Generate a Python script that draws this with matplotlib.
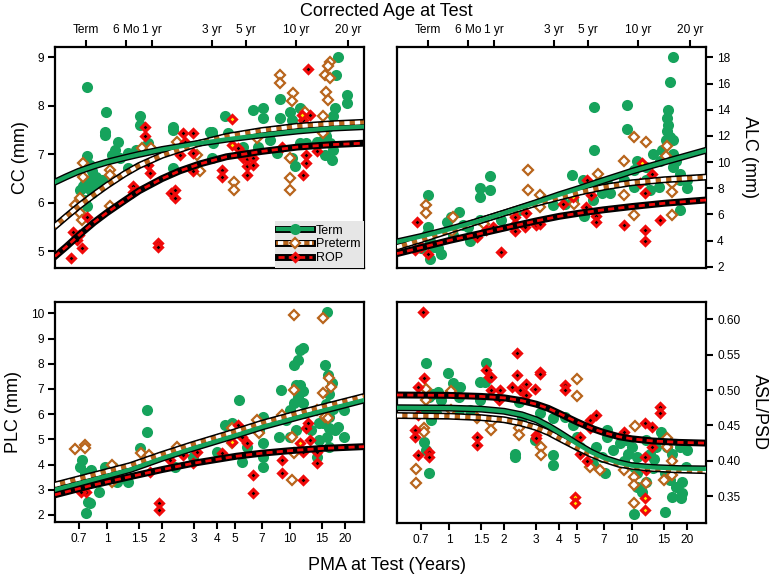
import matplotlib
matplotlib.use("Agg")
import matplotlib.pyplot as plt
from matplotlib.lines import Line2D
from matplotlib.legend_handler import HandlerTuple
from matplotlib.ticker import NullLocator, FixedLocator

plt.rcParams["font.family"] = ["Liberation Sans", "DejaVu Sans"]

GREEN = "#16a35c"
BROWN = "#b8651c"
RED = "#f00a0a"
YELLOW = "#ffee00"

# x axis (PMA in years) and top axis (corrected age)
pma_ticks = [0.7, 1, 1.5, 2, 3, 4, 5, 7, 10, 15, 20]
pma_labels = ["0.7", "1", "1.5", "2", "3", "4", "5", "7", "10", "15", "20"]
age_ticks = [0.767, 1.267, 1.767, 3.767, 5.767, 10.767, 20.767]
age_labels = ["Term", "6 Mo", "1 yr", "3 yr", "5 yr", "10 yr", "20 yr"]

# ---- CC ----
cc_term_x = [0.774, 0.99, 0.975, 0.975, 1.15, 1.106, 1.06, 1.31, 1.31, 1.51,
             1.51, 1.68, 1.45, 2.3, 2.3, 2.3, 3.73, 3.73, 3.8, 3.73, 4.41,
             0.774, 0.807, 0.825, 0.87, 0.807, 0.758, 0.86, 0.742, 0.79, 0.71,
             0.825, 0.758, 0.774, 0.896, 0.935, 1.18,
             18.3, 17.9, 20.5, 20.5, 8.82, 7.1, 6.3, 7.1, 8.82, 10.0, 10.2,
             11.35, 3.65, 5.55, 6.7, 7.78, 8.45, 10.2, 10.66, 11.35, 12.3,
             16.2, 17.2, 17.7, 15.8, 16.6, 17.2, 15.6, 16.9, 15.2, 14.0, 4.6, 5.55]
cc_term_y = [8.39, 7.88, 7.47, 7.40, 7.26, 7.09, 6.99, 7.02, 6.72, 7.78,
             7.6, 7.23, 7.09, 7.57, 7.5, 6.72, 7.47, 7.4, 7.23, 6.92, 7.78,
             6.96, 6.78, 6.65, 6.54, 6.48, 6.41, 6.41, 6.34, 6.30, 6.27,
             6.2, 6.06, 5.93, 6.34, 6.48, 6.93,
             9.01, 8.64, 8.22, 8.05, 8.13, 7.95, 7.92, 7.74, 7.74, 7.88, 7.71,
             7.95, 7.47, 7.16, 7.16, 7.3, 7.02, 6.92, 6.75, 7.23, 7.23,
             7.57, 7.78, 7.95, 7.37, 7.23, 7.09, 6.99, 6.89, 7.3, 7.26, 7.44, 6.99]
cc_pre_x = [0.742, 0.742, 0.669, 0.712, 0.712, 0.727, 1.04, 1.04, 1.04, 1.55,
            1.75, 2.4, 3.22, 3.1, 16.6, 16.2, 15.6, 16.6, 8.82, 8.82, 10.4,
            10.2, 15.8, 16.2, 12.1, 15.2, 10.0, 10.0, 10.0, 4.92, 4.92, 6.57, 15.2]
cc_pre_y = [6.82, 6.54, 5.96, 6.1, 5.79, 5.65, 6.68, 6.58, 5.93, 7.13,
            7.13, 7.26, 6.65, 6.99, 8.91, 8.81, 8.64, 8.57, 8.64, 8.47, 8.26,
            8.09, 8.29, 8.12, 7.88, 7.78, 6.92, 6.51, 6.27, 6.44, 6.27, 7.33, 7.44]
cc_rop_x = [0.64, 0.727, 0.65, 0.7, 0.686, 0.78, 1.39, 1.39, 1.61, 1.61,
            1.68, 1.72, 1.9, 1.9, 2.25, 2.35, 2.35, 2.6, 2.96, 2.96, 2.5,
            2.67, 2.96, 4.24, 4.24, 12.6, 12.9, 11.8, 5.2, 5.55, 5.8, 6.3,
            5.8, 6.3, 5.8, 9.0, 12.3, 12.3, 14.0, 11.8, 5.44]
cc_rop_y = [4.86, 5.07, 5.41, 5.34, 5.24, 5.72, 6.34, 6.23, 7.56, 7.37,
            6.78, 6.61, 5.17, 5.1, 6.2, 6.27, 6.1, 7.44, 7.44, 7.02, 6.99,
            7.26, 6.65, 6.68, 6.54, 8.75, 7.81, 7.71, 7.13, 6.93, 6.9, 6.93,
            6.75, 6.78, 6.58, 7.16, 6.99, 6.82, 7.06, 6.58, 7.02]
cc_ropy_x = [4.8, 11.6, 4.8]
cc_ropy_y = [7.73, 7.81, 7.19]
cc_fit_x = [0.52, 0.6, 0.7, 0.85, 1.0, 1.25, 1.5, 2.0, 2.5, 3.2, 4.5, 7.0,
            11.0, 17.0, 25.4]
cc_fit_term = [6.43, 6.54, 6.65, 6.76, 6.84, 6.93, 7.0, 7.1, 7.16, 7.23, 7.31,
               7.4, 7.48, 7.54, 7.57]
cc_fit_pre = [5.52, 5.72, 5.93, 6.17, 6.36, 6.6, 6.77, 6.98, 7.1, 7.23, 7.37,
              7.49, 7.58, 7.63, 7.66]
cc_fit_rop = [4.9, 5.1, 5.33, 5.6, 5.8, 6.05, 6.25, 6.5, 6.66, 6.8, 6.95,
              7.06, 7.15, 7.2, 7.23]

# ---- ALC ----
alc_term_x = [16.8, 16.2, 6.2, 9.4, 9.4, 6.2, 4.7, 5.4, 5.6, 1.68, 1.48, 1.48,
              1.68, 0.77, 0.77, 0.76, 0.79, 0.83, 0.87, 0.79, 0.97, 1.02, 1.13,
              1.27, 1.2, 1.48, 1.92, 2.4, 3.72, 4.3, 4.77, 5.5, 6.1, 6.9, 6.6,
              7.3, 7.6, 9.0, 10.2, 10.7, 12.0, 12.0, 12.6, 14.3, 14.6, 15.3,
              15.5, 15.7, 15.5, 15.7, 16.2, 16.8, 16.8, 17.4, 16.8, 18.2, 18.2,
              20.0, 20.0, 14.0, 18.2, 13.0, 10.2, 0.70, 0.9, 1.05, 1.3]
alc_term_y = [18.0, 16.1, 14.2, 14.4, 12.5, 10.9, 9.0, 8.6, 8.1, 8.9, 8.0, 7.3,
              7.85, 7.47, 5.05, 4.5, 4.0, 3.5, 3.4, 2.6, 5.4, 5.8, 6.2,
              5.05, 5.2, 5.55, 5.55, 6.3, 6.7, 6.8, 7.1, 5.9, 7.1, 7.6, 8.5,
              8.4, 7.6, 8.6, 9.4, 10.1, 9.6, 8.6, 7.85, 10.1, 10.9, 11.7,
              12.4, 12.8, 13.4, 14.0, 11.9, 11.7, 10.6, 10.1, 9.6, 9.1, 8.6,
              8.6, 8.0, 8.1, 6.3, 10.6, 8.1, 3.4, 3.0, 4.4, 4.0]
alc_pre_x = [0.75, 0.75, 1.05, 1.04, 1.55, 2.7, 2.7, 3.14, 3.14, 2.25, 4.77,
             6.5, 9.1, 9.1, 10.2, 10.2, 12.0, 15.5, 15.3, 16.5, 16.5, 16.5, 4.8]
alc_pre_y = [6.7, 6.1, 5.8, 4.7, 5.3, 9.4, 7.85, 7.5, 6.6, 6.1, 7.3,
             9.1, 10.1, 7.5, 11.9, 5.95, 11.5, 11.2, 10.5, 8.4, 7.7, 5.95, 6.8]
alc_rop_x = [0.67, 0.7, 0.77, 0.65, 1.42, 1.6, 1.92, 2.3, 2.3, 2.3, 2.65, 3.0,
             3.14, 4.2, 5.7, 6.0, 6.4, 6.4, 5.6, 9.1, 11.8, 12.9, 11.8, 11.8,
             14.2, 11.0, 1.75, 2.6]
alc_rop_y = [5.4, 3.5, 3.0, 3.3, 4.3, 4.8, 3.1, 5.3, 4.7, 5.8, 6.1, 5.2,
             5.3, 6.8, 8.6, 7.5, 5.9, 5.4, 6.6, 5.2, 7.6, 9.1, 4.8, 4.0,
             5.6, 8.4, 5.0, 5.0]
alc_ropy_x = [4.77, 11.4]
alc_ropy_y = [7.3, 9.9]
alc_fit_x = [0.52, 0.7, 1.0, 1.5, 2.0, 3.0, 4.0, 5.2, 7.0, 10.0, 15.0, 25.4]
alc_fit_term = [3.9, 4.3, 4.85, 5.55, 6.1, 6.9, 7.5, 8.0, 8.6, 9.3, 10.0, 10.9]
alc_fit_pre = [3.5, 4.05, 4.75, 5.55, 6.1, 6.85, 7.3, 7.7, 8.08, 8.42, 8.65, 8.85]
alc_fit_rop = [3.0, 3.45, 4.0, 4.55, 4.95, 5.5, 5.85, 6.1, 6.35, 6.6, 6.85, 7.1]

# ---- PLC ----
plc_term_x = [0.73, 0.71, 0.76, 0.82, 0.79, 0.90, 0.79, 0.81, 0.77, 0.98, 1.08,
              1.13, 1.3, 1.52, 1.65, 1.65, 2.35, 2.96, 3.97, 4.4, 5.3, 4.8, 5.5,
              5.8, 7.1, 7.1, 7.1, 7.1, 6.8, 8.9, 8.7, 9.5, 10.0, 10.5, 11.0,
              11.3, 11.8, 10.8, 11.3, 11.8, 11.0, 10.5, 11.8, 12.0, 10.8, 10.0,
              13.0, 14.5, 14.5, 15.9, 15.6, 16.2, 16.9, 16.3, 15.7, 17.3, 16.3,
              15.2, 16.3, 17.6, 15.9, 18.2, 19.7, 19.7, 16.3, 14.0]
plc_term_y = [4.18, 3.92, 3.65, 3.79, 3.32, 2.93, 2.5, 2.46, 2.07, 3.92, 3.92,
              3.32, 3.32, 4.65, 6.17, 5.3, 3.92, 4.31, 4.51, 5.57, 6.56, 5.64, 4.12,
              4.71, 3.92, 4.84, 4.31, 5.9, 5.37, 6.96, 5.1, 5.77, 6.17, 7.95, 8.15,
              8.55, 8.61, 7.16, 7.16, 6.9, 6.7, 6.43, 6.43, 6.03, 5.37, 5.11,
              5.37, 5.64, 4.98, 10.07, 7.95, 7.56, 7.23, 6.8, 6.4, 6.2, 5.9,
              5.64, 5.44, 5.37, 5.1, 5.5, 6.17, 5.11, 4.7, 4.31]
plc_pre_x = [0.67, 0.76, 0.76, 1.06, 1.06, 1.53, 1.69, 2.4, 4.8, 4.8, 6.6, 6.8,
             9.0, 10.5, 10.5, 10.2, 10.2, 10.5, 15.2, 15.2, 16.3, 16.7, 15.5,
             16.2, 14.0]
plc_pre_y = [4.62, 4.78, 4.65, 3.98, 3.32, 4.45, 4.38, 4.71, 5.44, 4.84, 5.77,
             5.24, 5.97, 9.94, 6.96, 5.11, 3.39, 4.45, 9.8, 6.83, 7.42, 7.09,
             5.9, 5.84, 6.17]
plc_rop_x = [0.77, 1.92, 1.92, 1.72, 2.2, 2.6, 2.96, 3.1, 4.24, 5.2, 5.5, 5.8,
             6.3, 6.3, 9.1, 9.1, 11.8, 12.2, 12.5, 12.8, 11.8, 14.0, 14.0, 0.72]
plc_rop_y = [2.93, 2.46, 2.2, 3.72, 4.18, 4.38, 4.05, 4.51, 4.45, 5.57, 5.1, 4.84,
             3.59, 2.86, 4.18, 3.65, 4.51, 5.44, 5.64, 4.98, 3.39, 4.51, 4.05, 2.9]
plc_ropy_x = [4.8, 11.3]
plc_ropy_y = [4.9, 4.84]
plc_fit_x = [0.52, 1.0, 1.34, 2.0, 2.96, 5.0, 7.1, 12.0, 25.4]
plc_fit_term = [3.0, 3.55, 3.8, 4.25, 4.65, 5.15, 5.5, 5.95, 6.56]
plc_fit_pre = [3.19, 3.72, 3.96, 4.4, 4.8, 5.3, 5.65, 6.1, 6.7]
plc_rop_fit_x = [0.52, 0.8, 1.34, 2.0, 2.96, 5.1, 7.0, 10.0, 15.0, 25.4]
plc_fit_rop = [2.8, 3.15, 3.52, 3.8, 4.05, 4.33, 4.45, 4.55, 4.64, 4.71]

# ---- ASL/PSD ----
asl_term_x = [0.75, 0.73, 0.75, 0.78, 0.75, 0.78, 0.82, 0.87, 0.9, 0.8, 0.85,
              0.99, 1.05, 1.15, 1.13, 1.13, 1.3, 1.48, 1.48, 1.6, 1.58, 2.3, 2.3,
              2.4, 2.5, 2.95, 3.14, 3.72, 3.72, 3.72, 4.3, 4.77, 5.0, 5.2, 6.1,
              6.4, 6.9, 7.3, 7.1, 7.3, 7.9, 8.6, 9.3, 9.5, 10.0, 10.7, 10.2, 10.7,
              11.3, 12.0, 12.6, 13.2, 13.6, 14.8, 15.5, 16.5, 15.2, 16.2, 17.5,
              16.5, 18.5, 18.8, 15.2, 18.2, 20.0, 19.7, 18.8, 14.5, 13.0, 10.2,
              10.7, 12.0, 9.0]
asl_term_y = [0.538, 0.427, 0.415, 0.383, 0.472, 0.49, 0.495, 0.497, 0.486, 0.457,
              0.467, 0.524, 0.51, 0.505, 0.49, 0.472, 0.472, 0.486, 0.512, 0.538,
              0.512, 0.41, 0.406, 0.483, 0.462, 0.429, 0.467, 0.408, 0.394, 0.46,
              0.462, 0.45, 0.434, 0.42, 0.396, 0.42, 0.406, 0.443, 0.382, 0.434,
              0.415, 0.425, 0.429, 0.41, 0.42, 0.382, 0.325, 0.363, 0.356, 0.429,
              0.41, 0.403, 0.42, 0.434, 0.42, 0.41, 0.382, 0.373, 0.363, 0.349,
              0.347, 0.37, 0.327, 0.42, 0.415, 0.391, 0.354, 0.44, 0.39, 0.391,
              0.406, 0.37, 0.40]
asl_pre_x = [0.66, 0.66, 0.75, 0.75, 0.73, 0.73, 1.03, 1.03, 1.42, 1.7, 1.7, 2.4,
             2.4, 3.2, 3.2, 5.0, 5.0, 5.9, 6.7, 9.0, 10.4, 10.2, 10.2, 10.2, 12.0,
             15.5, 15.5, 16.5, 15.0, 16.5]
asl_pre_y = [0.389, 0.369, 0.502, 0.486, 0.446, 0.441, 0.498, 0.472, 0.46, 0.455,
             0.443, 0.446, 0.436, 0.42, 0.408, 0.516, 0.491, 0.391, 0.387, 0.387,
             0.449, 0.377, 0.366, 0.34, 0.368, 0.432, 0.42, 0.399, 0.373, 0.38]
asl_rop_x = [0.72, 0.68, 0.73, 0.65, 0.65, 0.68, 0.78, 0.78, 0.68, 1.42, 1.42,
             1.6, 1.65, 1.7, 1.7, 1.9, 1.88, 2.2, 2.35, 2.35, 2.45, 2.65, 2.65,
             2.95, 3.14, 3.14, 3.0, 3.0, 4.3, 4.3, 5.2, 5.2, 5.7, 5.9, 5.9, 6.4,
             9.0, 11.8, 12.9, 11.8, 12.0, 12.9, 14.2, 14.2]
asl_rop_y = [0.610, 0.505, 0.517, 0.444, 0.433, 0.408, 0.413, 0.406, 0.465, 0.433,
             0.422, 0.528, 0.519, 0.519, 0.50, 0.50, 0.486, 0.505, 0.553, 0.521,
             0.50, 0.509, 0.493, 0.502, 0.526, 0.523, 0.436, 0.432, 0.507, 0.50,
             0.434, 0.410, 0.399, 0.458, 0.446, 0.465, 0.441, 0.453, 0.448, 0.406,
             0.387, 0.42, 0.476, 0.467]
asl_ropy_x = [4.9, 4.9, 11.8, 11.8]
asl_ropy_y = [0.349, 0.34, 0.347, 0.33]
asl_fit_x = [0.52, 1.0, 1.5, 2.0, 2.5, 3.0, 3.5, 4.0, 5.0, 6.0, 7.0, 8.5, 10.0,
             13.0, 18.0, 25.4]
asl_fit_term = [0.475, 0.4745, 0.473, 0.470, 0.465, 0.458, 0.449, 0.440, 0.424,
                0.412, 0.404, 0.397, 0.393, 0.3905, 0.389, 0.3885]
asl_fit_pre = [0.464, 0.463, 0.461, 0.458, 0.453, 0.447, 0.44, 0.432, 0.419,
               0.409, 0.402, 0.395, 0.392, 0.389, 0.387, 0.386]
asl_fit_rop = [0.493, 0.4925, 0.491, 0.489, 0.485, 0.48, 0.474, 0.467, 0.455,
               0.446, 0.44, 0.434, 0.431, 0.428, 0.426, 0.425]


def setup_axes(ax, ylim, yticks, ylabels, ylabel, top_row, right_side):
    """Log x axis, thick frame and the tick layout of one panel."""
    ax.set_xscale("log")
    ax.set_xlim(0.52, 25.4)
    ax.set_ylim(*ylim)
    ax.xaxis.set_minor_locator(NullLocator())
    ax.yaxis.set_minor_locator(NullLocator())
    for sp in ax.spines.values():
        sp.set_linewidth(1.6)
    if top_row:
        ax.xaxis.set_major_locator(FixedLocator(age_ticks))
        ax.set_xticklabels(age_labels)
        ax.tick_params(axis="x", bottom=False, top=True, labelbottom=False,
                       labeltop=True)
    else:
        ax.xaxis.set_major_locator(FixedLocator(pma_ticks))
        ax.set_xticklabels(pma_labels)
    ax.set_yticks(yticks)
    ax.set_yticklabels(ylabels)
    if right_side:
        ax.tick_params(axis="y", left=False, right=True, labelleft=False,
                       labelright=True)
        ax.yaxis.set_label_position("right")
        ax.set_ylabel(ylabel, fontsize=13, rotation=270, va="bottom", labelpad=8)
    else:
        ax.set_ylabel(ylabel, fontsize=13, labelpad=6)
    ax.tick_params(direction="out", length=5, width=1.5, labelsize=8.6, pad=3)


def draw_points(ax, tx, ty, px, py, rx, ry, yx, yy):
    """Scatter the three groups: term circles, preterm and ROP diamonds."""
    ax.plot(tx, ty, "o", ms=8, color=GREEN, mec="none", zorder=2)
    ax.plot(px, py, "D", ms=4.8, mfc="white", mec=BROWN, mew=1.6, zorder=3)
    ax.plot(rx, ry, "D", ms=4.5, mfc="black", mec=RED, mew=2.2, zorder=4)
    ax.plot(yx, yy, "D", ms=4.5, mfc=YELLOW, mec=RED, mew=2.2, zorder=4)


def draw_fits(ax, fx, term, pre, rop, rop_x=None):
    """Fitted curves: black outline with the group colour on top."""
    if rop_x is None:
        rop_x = fx
    ax.plot(rop_x, rop, color="black", lw=5, zorder=5)
    ax.plot(rop_x, rop, color=RED, lw=2.0, ls=(0, (2.2, 1.5)), zorder=6)
    ax.plot(fx, pre, color="black", lw=5, zorder=5)
    ax.plot(fx, pre, color=BROWN, lw=2.7, zorder=6)
    ax.plot(fx, pre, color="white", lw=2.7, ls=(0, (1.4, 1.4)), zorder=6)
    ax.plot(fx, term, color="black", lw=5, zorder=5)
    ax.plot(fx, term, color=GREEN, lw=3.0, zorder=6)


fig = plt.figure(figsize=(7.73, 5.77), dpi=100)
W, H = 773, 577


def box(x0, y0, x1, y1):
    return [x0 / W, 1 - y1 / H, (x1 - x0) / W, (y1 - y0) / H]


ax_cc = fig.add_axes(box(55, 47, 364, 268))
ax_alc = fig.add_axes(box(397, 47, 706, 268))
ax_plc = fig.add_axes(box(55, 302, 364, 522))
ax_asl = fig.add_axes(box(397, 302, 706, 523))

setup_axes(ax_cc, (4.66, 9.21), [5, 6, 7, 8, 9], ["5", "6", "7", "8", "9"],
           "CC (mm)", True, False)
setup_axes(ax_alc, (1.9, 18.8), list(range(2, 19, 2)),
           [str(v) for v in range(2, 19, 2)], "ALC (mm)", True, True)
setup_axes(ax_plc, (1.72, 10.45), list(range(2, 11)),
           [str(v) for v in range(2, 11)], "PLC (mm)", False, False)
asl_ticks = [0.35, 0.40, 0.45, 0.50, 0.55, 0.60]
setup_axes(ax_asl, (0.312, 0.6245), asl_ticks,
           [f"{v:.2f}" for v in asl_ticks], "ASL/PSD", False, True)

draw_points(ax_cc, cc_term_x, cc_term_y, cc_pre_x, cc_pre_y, cc_rop_x, cc_rop_y,
            cc_ropy_x, cc_ropy_y)
draw_fits(ax_cc, cc_fit_x, cc_fit_term, cc_fit_pre, cc_fit_rop)

draw_points(ax_alc, alc_term_x, alc_term_y, alc_pre_x, alc_pre_y, alc_rop_x,
            alc_rop_y, alc_ropy_x, alc_ropy_y)
draw_fits(ax_alc, alc_fit_x, alc_fit_term, alc_fit_pre, alc_fit_rop)

draw_points(ax_plc, plc_term_x, plc_term_y, plc_pre_x, plc_pre_y, plc_rop_x,
            plc_rop_y, plc_ropy_x, plc_ropy_y)
draw_fits(ax_plc, plc_fit_x, plc_fit_term, plc_fit_pre, plc_fit_rop,
          rop_x=plc_rop_fit_x)

draw_points(ax_asl, asl_term_x, asl_term_y, asl_pre_x, asl_pre_y, asl_rop_x,
            asl_rop_y, asl_ropy_x, asl_ropy_y)
draw_fits(ax_asl, asl_fit_x, asl_fit_term, asl_fit_pre, asl_fit_rop)

# legend in the CC panel
h_term = (Line2D([], [], color="black", lw=5),
          Line2D([], [], color=GREEN, lw=3.0, marker="o", ms=8, mec="none"))
h_pre = (Line2D([], [], color="black", lw=5),
         Line2D([], [], color=BROWN, lw=2.7),
         Line2D([], [], color="white", lw=2.7, ls=(0, (1.4, 1.4)), marker="D",
                ms=4.8, mfc="white", mec=BROWN, mew=1.6))
h_rop = (Line2D([], [], color="black", lw=5),
         Line2D([], [], color=RED, lw=2.0, ls=(0, (2.2, 1.5)), marker="D",
                ms=4.5, mfc="black", mec=RED, mew=2.2))
leg = ax_cc.legend([h_term, h_pre, h_rop], ["Term", "Preterm", "ROP"],
                   handler_map={tuple: HandlerTuple(ndivide=1)},
                   loc="lower right", borderaxespad=0, fontsize=9,
                   handlelength=2.7, handletextpad=0.3, labelspacing=0.15,
                   borderpad=0.3, fancybox=False, framealpha=1)
leg.get_frame().set_facecolor("#e6e6e6")
leg.get_frame().set_edgecolor("none")
leg.set_zorder(10)

fig.text(0.5, 1 - 12 / H, "Corrected Age at Test", ha="center", va="center",
         fontsize=13)
fig.text(0.5, 1 - 565 / H, "PMA at Test (Years)", ha="center", va="center",
         fontsize=13)

fig.savefig("out.png", dpi=100)
